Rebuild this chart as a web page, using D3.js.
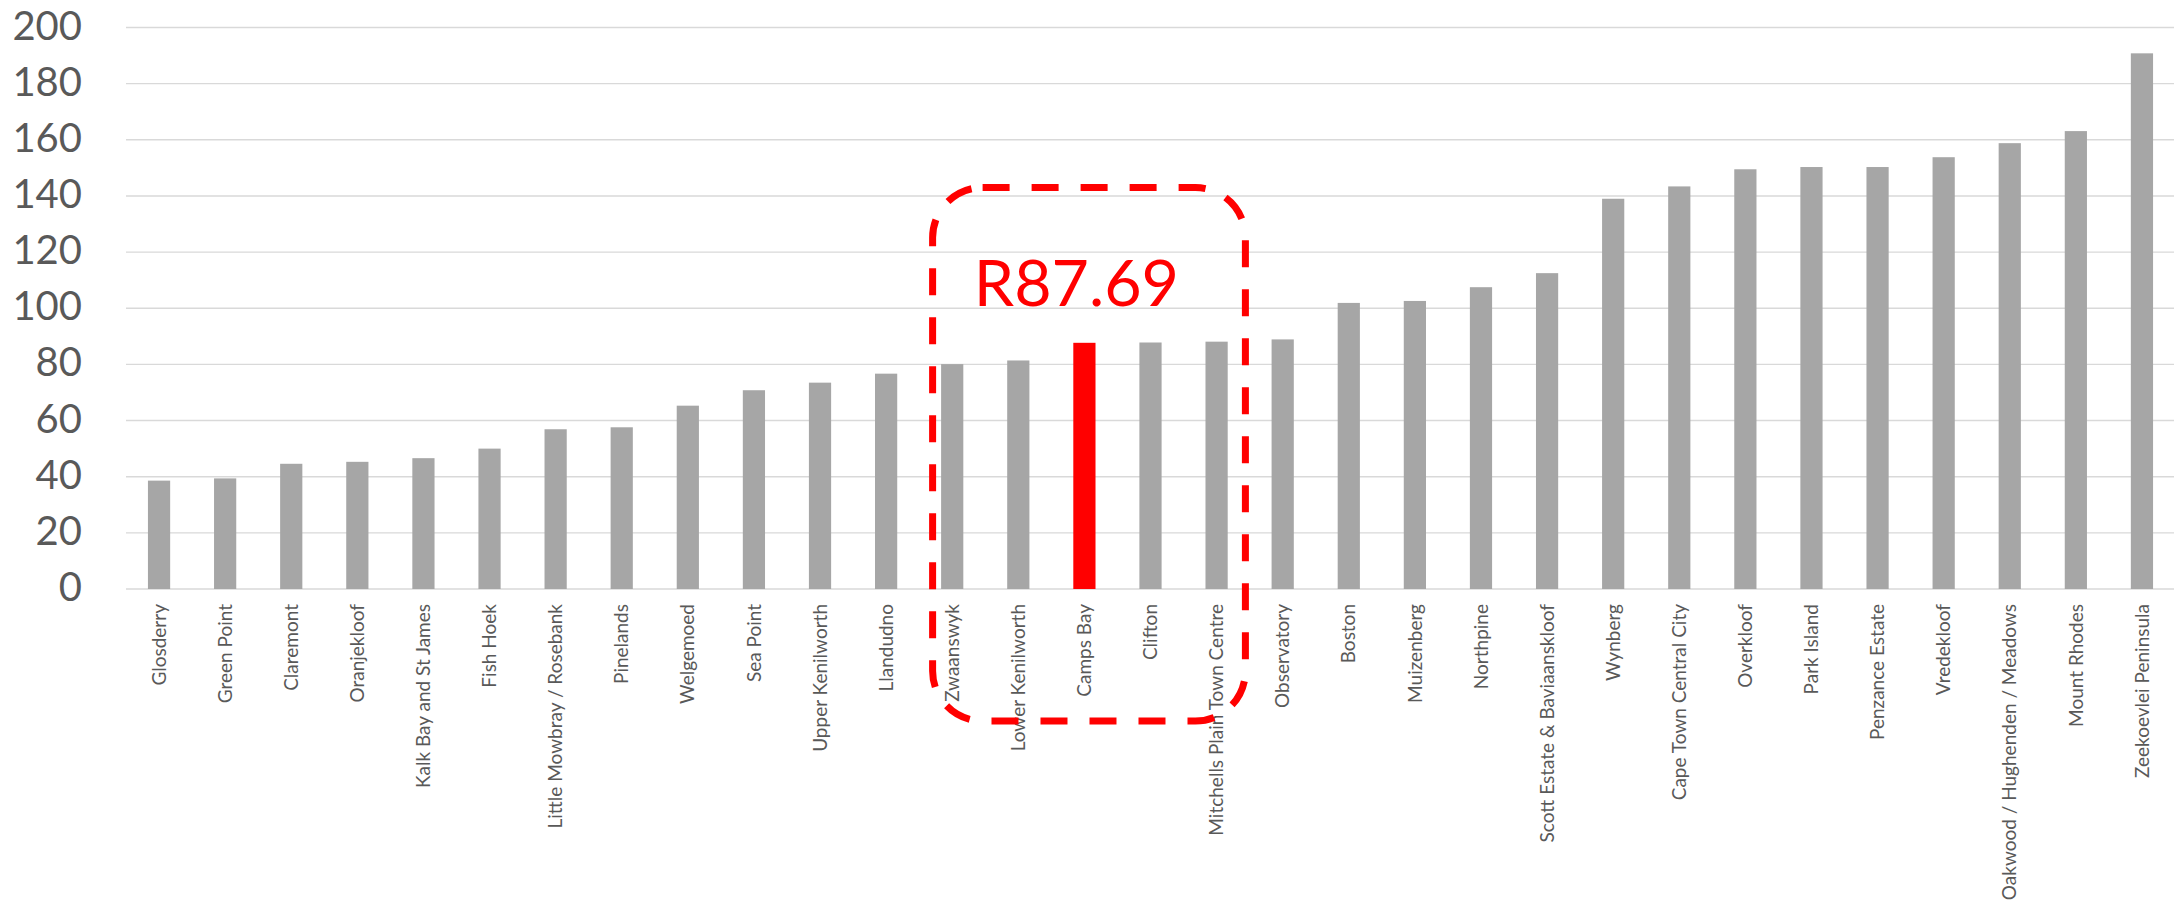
<!DOCTYPE html>
<html>
<head>
<meta charset="utf-8">
<script src="https://cdn.jsdelivr.net/npm/d3@7"></script>
<style>
  html, body { margin: 0; padding: 0; background: #fff; }
  svg { display: block; font-family: Lato, "Open Sans", sans-serif; }
</style>
</head>
<body>
<svg id="chart"></svg>
<script>
const suburbs = [
  "Glosderry", "Green Point", "Claremont", "Oranjekloof", "Kalk Bay and St James",
  "Fish Hoek", "Little Mowbray / Rosebank", "Pinelands", "Welgemoed", "Sea Point",
  "Upper Kenilworth", "Llandudno", "Zwaanswyk", "Lower Kenilworth", "Camps Bay",
  "Clifton", "Mitchells Plain Town Centre", "Observatory", "Boston", "Muizenberg",
  "Northpine", "Scott Estate & Baviaanskloof", "Wynberg", "Cape Town Central City", "Overkloof",
  "Park Island", "Penzance Estate", "Vredekloof", "Oakwood / Hughenden / Meadows", "Mount Rhodes",
  "Zeekoevlei Peninsula",
];

const prices = [
  38.6, 39.4, 44.6, 45.3, 46.6,
  50.0, 56.9, 57.6, 65.3, 70.8,
  73.5, 76.7, 80.1, 81.4, 87.69,
  87.8, 88.1, 88.9, 101.9, 102.6,
  107.5, 112.5, 139.0, 143.4, 149.5,
  150.3, 150.3, 153.8, 158.8, 163.1,
  190.8,
];

const yTicks = [0, 20, 40, 60, 80, 100, 120, 140, 160, 180, 200];

const highlight = "Camps Bay";
const highlightLabel = "R87.69";
// suburbs the dashed callout box wraps around
const boxFrom = "Zwaanswyk";
const boxTo = "Mitchells Plain Town Centre";

const WIDTH = 2174;
const HEIGHT = 902;
const PLOT = { left: 126, right: 2175, top: 27.5, bottom: 589 };

const GREY = "#a6a6a6";
const RED = "#ff0000";
const TEXT = "#595959";
const GRID = "#d9d9d9";

const svg = d3.select("#chart")
  .attr("width", WIDTH)
  .attr("height", HEIGHT)
  .attr("viewBox", `0 0 ${WIDTH} ${HEIGHT}`);

const x = d3.scaleBand()
  .domain(suburbs)
  .range([PLOT.left, PLOT.right])
  .paddingInner(0.664)
  .paddingOuter(0.332);

const y = d3.scaleLinear()
  .domain([0, 200])
  .range([PLOT.bottom, PLOT.top]);

// gridlines
svg.append("g")
  .selectAll("line")
  .data(yTicks)
  .join("line")
  .attr("x1", PLOT.left)
  .attr("x2", WIDTH)
  .attr("y1", (d) => y(d))
  .attr("y2", (d) => y(d))
  .attr("stroke", GRID)
  .attr("stroke-width", 1.4);

// y tick labels
svg.append("g")
  .selectAll("text")
  .data(yTicks)
  .join("text")
  .attr("x", 82)
  .attr("y", (d) => y(d) + 12)
  .attr("text-anchor", "end")
  .attr("fill", TEXT)
  .attr("font-size", 40)
  .text((d) => d);

// bars
svg.append("g")
  .selectAll("rect")
  .data(suburbs)
  .join("rect")
  .attr("x", (d) => x(d))
  .attr("width", x.bandwidth())
  .attr("y", (d, i) => y(prices[i]))
  .attr("height", (d, i) => y(0) - y(prices[i]))
  .attr("fill", (d) => (d === highlight ? RED : GREY));

// category labels, rotated
svg.append("g")
  .selectAll("text")
  .data(suburbs)
  .join("text")
  .attr("transform", (d) => `translate(${x(d) + x.bandwidth() / 2},${y(0) + 15}) rotate(-90)`)
  .attr("text-anchor", "end")
  .attr("dy", "0.35em")
  .attr("fill", TEXT)
  .attr("font-size", 19)
  .text((d) => d);

// dashed callout box around the Camps Bay neighbourhood
const boxLeft = x(boxFrom) - 8.5;
const boxRight = x(boxTo) + x.bandwidth() + 17.7;
const boxTop = y(143);
const boxBottom = y(0) + 132;

svg.append("rect")
  .attr("x", boxLeft)
  .attr("y", boxTop)
  .attr("width", boxRight - boxLeft)
  .attr("height", boxBottom - boxTop)
  .attr("rx", 50)
  .attr("ry", 50)
  .attr("fill", "none")
  .attr("stroke", RED)
  .attr("stroke-width", 7)
  .attr("stroke-dasharray", "27 22");

svg.append("text")
  .attr("x", x(highlight) + x.bandwidth() / 2 - 8)
  .attr("y", 305.5)
  .attr("text-anchor", "middle")
  .attr("fill", RED)
  .attr("font-size", 64.5)
  .text(highlightLabel);
</script>
</body>
</html>
